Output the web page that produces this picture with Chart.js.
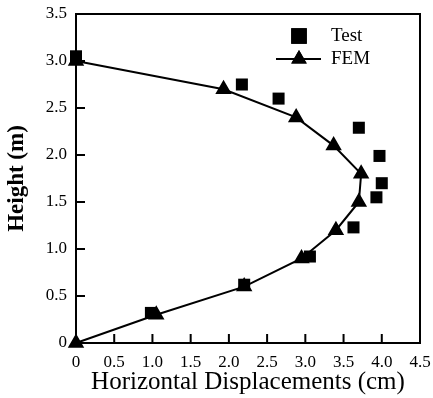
<!DOCTYPE html>
<html>
<head>
<meta charset="utf-8">
<script src="https://cdn.jsdelivr.net/npm/chart.js@4.4.1/dist/chart.umd.min.js"></script>
<style>
  html, body { margin: 0; padding: 0; background: #fff; }
  #wrap { width: 433px; height: 398px; }
</style>
</head>
<body>
<div id="wrap"><canvas id="c" width="433" height="398"></canvas></div>
<script>
// ---------- Data ----------
const testX = [0, 2.17, 2.65, 3.7, 3.97, 4.0, 3.93, 3.63, 3.06, 2.2, 0.98];
const testY = [3.05, 2.75, 2.6, 2.29, 1.99, 1.7, 1.55, 1.23, 0.92, 0.62, 0.32];
const femX = [0, 1.05, 2.2, 2.95, 3.4, 3.7, 3.73, 3.37, 2.88, 1.93, 0];
const femY = [0, 0.3, 0.6, 0.9, 1.2, 1.5, 1.8, 2.1, 2.4, 2.7, 3.0];
const xTicks = [0, 0.5, 1.0, 1.5, 2.0, 2.5, 3.0, 3.5, 4.0, 4.5];
const yTicks = [0, 0.5, 1.0, 1.5, 2.0, 2.5, 3.0, 3.5];

const pts = (xs, ys) => xs.map((x, i) => ({ x, y: ys[i] }));
const fmt = v => v === 0 ? '0' : Number(v).toFixed(1);
const SERIF = "'Liberation Serif', 'DejaVu Serif', serif";

// ---------- Frame, inward ticks and legend ----------
const framePlugin = {
  id: 'frame',
  afterDraw(chart) {
    const { ctx, chartArea: a, scales } = chart;
    ctx.save();
    ctx.strokeStyle = '#000';
    ctx.lineWidth = 2;
    ctx.strokeRect(a.left, a.top, a.right - a.left, a.bottom - a.top);
    ctx.beginPath();
    xTicks.forEach(v => {
      const px = scales.x.getPixelForValue(v);
      ctx.moveTo(px, a.bottom); ctx.lineTo(px, a.bottom - 9);
    });
    yTicks.forEach(v => {
      const py = scales.y.getPixelForValue(v);
      ctx.moveTo(a.left, py); ctx.lineTo(a.left + 9, py);
    });
    ctx.stroke();

    // legend (markers a bit larger than the data markers, as in the figure)
    const ds = chart.data.datasets;
    const lx = 299, ly1 = 36, ly2 = 59;
    ctx.fillStyle = '#000';
    Chart.helpers.drawPoint(ctx, { pointStyle: ds[0].pointStyle, radius: 11, borderWidth: 0 }, lx, ly1);
    ctx.fill();
    ctx.beginPath();
    ctx.moveTo(lx - 23, ly2); ctx.lineTo(lx + 22, ly2);
    ctx.stroke();
    Chart.helpers.drawPoint(ctx, { pointStyle: ds[1].pointStyle, radius: 9, borderWidth: 0 }, lx, ly2);
    ctx.fill();
    ctx.font = "19px " + SERIF;
    ctx.textBaseline = 'middle';
    ctx.textAlign = 'left';
    ctx.fillText(ds[0].label, 331, ly1);
    ctx.fillText(ds[1].label, 331, ly2);
    ctx.restore();
  }
};

new Chart(document.getElementById('c'), {
  type: 'scatter',
  data: {
    datasets: [
      { label: 'Test', data: pts(testX, testY), showLine: false, clip: false,
        pointStyle: 'rect', pointRadius: 8.5, pointHoverRadius: 8.5,
        backgroundColor: '#000', borderColor: '#000', borderWidth: 0 },
      { label: 'FEM', data: pts(femX, femY), showLine: true, clip: false,
        pointStyle: 'triangle', pointRadius: 7.5, pointHoverRadius: 7.5,
        backgroundColor: '#000', borderColor: '#000', borderWidth: 2, tension: 0 },
    ],
  },
  options: {
    responsive: false,
    animation: false,
    layout: { padding: { left: 0, right: 13, top: 14, bottom: 0 } },
    plugins: { legend: { display: false }, tooltip: { enabled: false } },
    scales: {
      x: {
        type: 'linear', min: 0, max: 4.5,
        afterBuildTicks: s => { s.ticks = xTicks.map(v => ({ value: v })); },
        afterFit: s => { s.height = 55; s.paddingLeft = 0; s.paddingRight = 0; },
        grid: { display: false, drawTicks: false },
        border: { display: false },
        ticks: { color: '#000', padding: 9, maxRotation: 0, autoSkip: false,
                 font: { family: SERIF, size: 17 }, callback: fmt },
        title: { display: true, text: 'Horizontal Displacements (cm)', color: '#000',
                 font: { family: SERIF, size: 25 }, padding: { top: 0, bottom: 1 } },
      },
      y: {
        type: 'linear', min: 0, max: 3.5,
        afterBuildTicks: s => { s.ticks = yTicks.map(v => ({ value: v })); },
        afterFit: s => { s.width = 76; s.paddingTop = 0; s.paddingBottom = 0; },
        grid: { display: false, drawTicks: false },
        border: { display: false },
        ticks: { color: '#000', padding: 9, autoSkip: false,
                 font: { family: SERIF, size: 17 }, callback: fmt },
        title: { display: true, text: 'Height (m)', color: '#000',
                 font: { family: SERIF, size: 23, weight: 'bold' }, padding: { top: 3, bottom: 0 } },
      },
    },
  },
  plugins: [framePlugin],
});
</script>
</body>
</html>
